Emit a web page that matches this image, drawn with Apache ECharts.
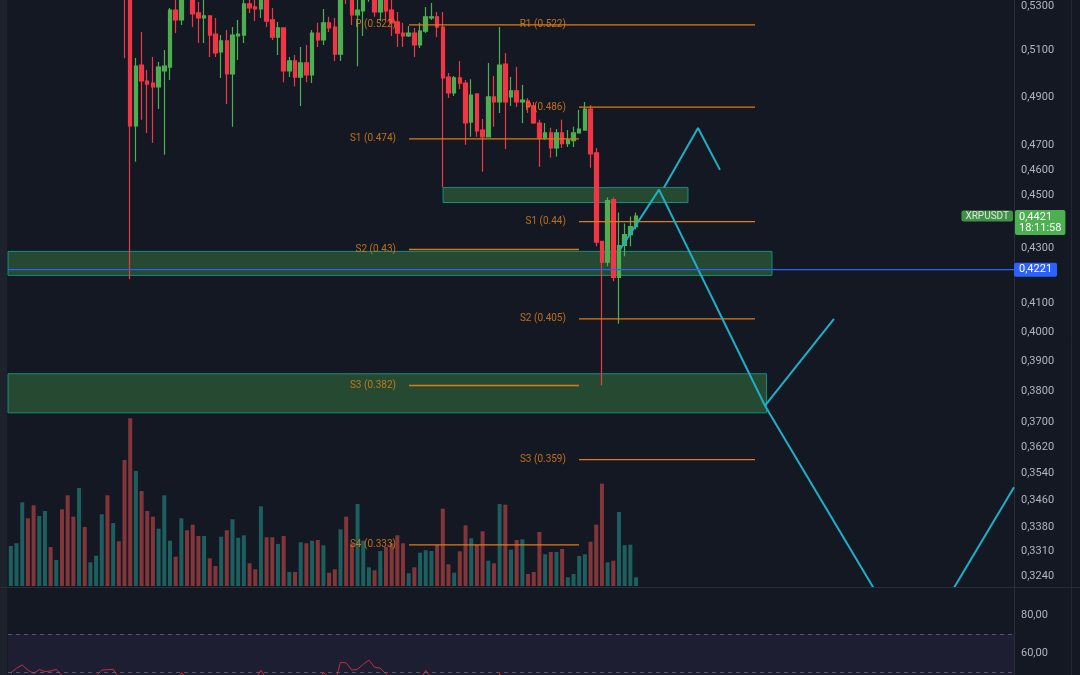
<!DOCTYPE html>
<html><head><meta charset="utf-8">
<script src="https://cdn.jsdelivr.net/npm/echarts@6/dist/echarts.min.js"></script>
<style>html,body{margin:0;padding:0;background:#141823;}#c{width:1080px;height:675px;}</style>
</head><body><div id="c"></div>
<script>
// ---- data ----
const SLOTS = 177; // bar slots incl. right margin
const categories = Array.from({length: SLOTS}, (_, i) => String(i + 1));
const open  = [.575,.582,.588,.596,.590,.583,.589,.594,.590,.593,.585,.576,.570,.578,.572,.575,.579,.584,.574,.578,.568,.555,.4779,.5037,.4968,.4959,.4943,.5011,.5028,.5282,.5237,.5410,.5360,.5269,.5246,.5255,.5173,.5094,.5143,.4998,.5165,.5169,.5310,.5296,.5287,.5350,.5237,.5160,.5201,.5011,.5055,.4985,.5046,.4994,.5178,.5147,.5224,.5205,.5085,.5400,.5360,.5260,.5278,.5360,.5390,.5273,.5360,.5282,.5228,.5178,.5165,.5178,.5125,.5187,.5246,.5251,.5205,.4985,.4917,.4981,.4959,.4795,.4913,.4762,.4734,.4900,.4879,.5041,.4900,.4926,.4879,.4883,.4862,.4791,.4730,.4750,.4689,.4750,.4706,.4718,.4750,.4762,.4849,.4669,.4325,.4248,.4484,.4193,.4310,.4351,.4381];
const close = [.582,.588,.596,.590,.583,.589,.594,.590,.593,.585,.576,.570,.578,.572,.575,.579,.584,.574,.578,.568,.555,.4779,.5032,.4968,.4955,.4943,.5028,.5032,.5282,.5237,.5380,.5370,.5264,.5246,.5255,.5169,.5090,.5143,.4998,.5169,.5173,.5310,.5292,.5287,.5340,.5232,.5160,.5201,.5011,.5055,.4985,.5046,.4994,.5178,.5147,.5224,.5201,.5085,.5360,.5350,.5260,.5282,.5360,.5380,.5273,.5360,.5278,.5224,.5178,.5165,.5178,.5125,.5187,.5251,.5251,.5205,.4981,.4917,.4981,.4959,.4791,.4908,.4758,.4734,.4900,.4879,.5037,.4879,.4926,.4879,.4887,.4858,.4791,.4730,.4750,.4689,.4750,.4706,.4722,.4750,.4766,.4849,.4665,.4322,.4248,.4480,.4193,.4310,.4351,.4381,.4421];
const low   = [.572,.579,.585,.586,.580,.581,.586,.587,.588,.582,.572,.566,.567,.569,.570,.573,.576,.570,.571,.563,.5067,.4186,.4633,.4804,.4750,.4710,.4849,.4661,.4972,.5178,.5214,.5350,.5205,.5134,.5134,.5072,.5072,.4981,.4870,.4775,.5059,.5134,.5269,.5232,.5246,.5205,.5147,.5081,.4963,.4985,.4946,.4862,.4963,.4959,.5116,.5125,.5183,.5055,.5055,.5310,.5214,.5032,.5165,.5320,.5251,.5232,.5237,.5165,.5116,.5116,.5160,.5072,.5112,.5178,.5237,.5160,.4531,.4896,.4904,.4934,.4702,.4734,.4734,.4593,.4734,.4775,.4833,.4685,.4862,.4858,.4791,.4833,.4787,.4613,.4722,.4649,.4653,.4689,.4693,.4693,.4750,.4762,.4609,.4307,.3819,.4233,.4179,.4028,.4270,.4307,.4370];
const high  = [.586,.592,.600,.599,.593,.592,.597,.596,.595,.595,.587,.579,.581,.580,.577,.581,.586,.586,.580,.580,.571,.558,.5068,.5183,.5015,.5072,.5050,.5103,.5291,.5340,.5400,.5450,.5400,.5319,.5328,.5258,.5246,.5169,.5192,.5205,.5237,.5340,.5350,.5328,.5370,.5380,.5291,.5228,.5201,.5072,.5081,.5116,.5125,.5192,.5224,.5287,.5251,.5246,.5400,.5430,.5400,.5340,.5400,.5420,.5420,.5390,.5390,.5350,.5273,.5224,.5210,.5201,.5224,.5296,.5314,.5273,.5273,.5002,.4989,.5055,.4972,.4976,.4913,.4808,.5046,.4989,.5205,.5090,.4985,.5028,.4951,.4896,.4879,.4804,.4791,.4771,.4766,.4804,.4762,.4775,.4845,.4879,.4866,.4689,.4325,.4492,.4492,.4435,.4393,.4419,.4435];
const volume = [40.0,42.7,83.7,67.7,80.7,70.0,75.0,39.0,26.0,76.7,90.7,69.3,98.0,59.0,23.7,30.3,71.7,90.7,63.0,44.7,126.0,167.7,115.0,95.0,75.0,69.3,57.3,90.7,45.3,29.3,67.7,55.7,61.3,50.0,50.0,27.7,20.0,49.3,55.7,66.7,48.3,50.7,22.7,16.7,79.7,48.7,48.7,42.0,50.0,14.0,14.0,43.7,42.7,45.3,46.0,40.7,13.3,16.7,56.7,69.3,42.7,82.0,45.3,18.7,15.7,35.0,39.0,42.7,50.7,42.7,12.7,18.7,33.3,35.7,35.0,41.0,77.3,21.7,13.3,34.7,60.7,47.7,41.0,54.7,25.3,22.7,82.0,81.3,36.3,46.0,46.7,12.0,14.0,54.0,31.7,34.0,34.0,37.0,8.7,12.0,30.0,31.7,44.3,61.3,102.3,23.7,25.3,74.0,40.7,41.3,8.7];
const rsi = [49.5,52,53.7,51,49.2,51.3,50.2,50.5,51.4,48,45,42,45,44,46,48,51,51.2,51.4,47,41,30,38,36,35,34,37,38,44,43,49.6,47,46,44,45,43,41,43,40,44,44,47,46,46,51,46,44,45,41,42,40,42,41,46,45,49.8,47,44,55.1,54.8,51,51.5,54,56.3,52.5,52,49,46,44,43,44,43,46,50.8,47,46,36,35,37,36,32,36,33,33,38,37,49.2,40,41,40,40,39,37,35,36,34,36,35,36,37,38,41,35,25,23,35,30,35,37,38,40];

const priceTicks = [0.53,0.51,0.49,0.47,0.46,0.45,0.43,0.41,0.40,0.39,0.38,0.37,0.362,0.354,0.346,0.338,0.331,0.324];
const priceTickLabels = ['0,5300','0,5100','0,4900','0,4700','0,4600','0,4500','0,4300','0,4100','0,4000','0,3900','0,3800','0,3700','0,3620','0,3540','0,3460','0,3380','0,3310','0,3240'];
const rsiTicks = [80, 60];
const rsiTickLabels = ['80,00', '60,00'];

// pivot sets (levels as drawn on the chart)
const pivotLeftSpan = [70.05, 99.96];
const pivotLeftNames = ['P (0.522)','S1 (0.474)','S2 (0.43)','S3 (0.382)','S4 (0.333)'];
const pivotLeftValues = [0.5215, 0.4726, 0.4295, 0.3819, 0.3328];
const pivotRightSpan = [99.96, 130.93];
const pivotRightNames = ['R1 (0.522)','P (0.486)','S1 (0.44)','S2 (0.405)','S3 (0.359)'];
const pivotRightValues = [0.5215, 0.4857, 0.4400, 0.4045, 0.3582];

// demand zones
const zoneSlots = [[76.04, 119.14], [-0.5, 133.92], [-0.5, 132.95]];
const zonePrices = [[0.4531, 0.4473], [0.4288, 0.4200], [0.3858, 0.3730]];

// projection paths [slot, price]
const pathMain = [[107.18,0.4295],[114.04,0.4523],[132.69,0.3753],[158.85,0.3025],[176.5,0.3498]];
const pathUp   = [[114.92,0.4531],[120.90,0.4770],[124.77,0.4601]];
const pathBounce = [[132.69,0.3753],[144.83,0.4045]];

const hLinePrice = 0.4221;
const lastPrice = 0.4421;
const lastPriceLabel = '0,4421\n18:11:58';
const hLineLabel = '0,4221';
const symbolName = 'XRPUSDT';

// ---- chart ----
const UP = '#4caf50', DOWN = '#f23645';
const ORANGE_LINE = '#e07a12', ORANGE_TEXT = 'rgba(226,130,24,0.82)';
const CLEAR = 'rgba(0,0,0,0)';
const FONT = 'Roboto';
const chart = echarts.init(document.getElementById('c'), null, {renderer: 'canvas'});

const candleData = open.map((o, i) => [o, close[i], low[i], high[i]]);
const volData = volume.map((v, i) => ({value: v, itemStyle: {color: close[i] >= open[i] ? 'rgba(38,166,154,0.5)' : 'rgba(239,83,80,0.5)'}}));

function pivotSeries(span, names, values) {
  return values.map((v, i) => ({
    name: names[i], type: 'line', xAxisIndex: 1, yAxisIndex: 0, z: 4, silent: true,
    symbol: 'circle', symbolSize: 0, showSymbol: true,
    lineStyle: {color: ORANGE_LINE, width: 1.3},
    itemStyle: {color: ORANGE_LINE},
    label: {show: false},
    data: [
      {value: [span[0], v], label: {show: true, position: 'left', distance: 13, formatter: names[i], color: ORANGE_TEXT, fontSize: 10, fontFamily: FONT}},
      {value: [span[1], v]}
    ]
  }));
}

const option = {
  animation: false,
  backgroundColor: '#141823',
  textStyle: {fontFamily: FONT},
  grid: [
    {left: 8, right: 66, top: 0, bottom: 88},
    {left: 8, right: 66, top: 400, bottom: 89},
    {left: 8, right: 66, top: 588, bottom: 0}
  ],
  xAxis: [
    {type: 'category', data: categories, gridIndex: 0, show: false},
    {type: 'value', min: -0.5, max: SLOTS - 0.5, gridIndex: 0, show: false},
    {type: 'category', data: categories, gridIndex: 1, show: false},
    {type: 'category', data: categories, gridIndex: 2, show: false}
  ],
  yAxis: [
    {type: 'log', min: 0.3209, max: 0.5328, gridIndex: 0, show: false, splitLine: {show: false}},
    {type: 'value', min: 0, max: 186, gridIndex: 1, show: false, splitLine: {show: false}},
    {type: 'value', min: 48.42, max: 94.21, gridIndex: 2, show: false, splitLine: {show: false}}
  ],
  graphic: [
    {type: 'rect', shape: {x: 0, y: 0, width: 7, height: 675}, style: {fill: '#1e222d'}, z: 100},
    {type: 'line', shape: {x1: 0, y1: 587.5, x2: 1080, y2: 587.5}, style: {stroke: '#2a2e39', lineWidth: 1}, z: 100},
    {type: 'line', shape: {x1: 1014.5, y1: 0, x2: 1014.5, y2: 675}, style: {stroke: '#2a2e39', lineWidth: 1}, z: 0},
    {type: 'line', shape: {x1: 1071.5, y1: 0, x2: 1071.5, y2: 675}, style: {stroke: '#232733', lineWidth: 1}, z: 0}
  ],
  series: [
    {
      name: 'Volume', type: 'bar', xAxisIndex: 2, yAxisIndex: 1, data: volData,
      barWidth: 4, z: 1
    },
    {
      name: 'Zones', type: 'line', xAxisIndex: 1, yAxisIndex: 0, data: [], z: 2,
      markArea: {
        silent: true,
        itemStyle: {color: 'rgba(76,175,80,0.33)', borderColor: 'rgba(16,160,140,0.85)', borderWidth: 1},
        data: zoneSlots.map((s, i) => [{coord: [s[0], zonePrices[i][0]]}, {coord: [s[1], zonePrices[i][1]]}])
      }
    },
    {
      name: 'XRPUSDT', type: 'candlestick', xAxisIndex: 0, yAxisIndex: 0, data: candleData,
      barWidth: 4, z: 3,
      itemStyle: {color: UP, color0: DOWN, borderColor: UP, borderColor0: DOWN, borderWidth: 1.2}
    },
    ...pivotSeries(pivotLeftSpan, pivotLeftNames, pivotLeftValues),
    ...pivotSeries(pivotRightSpan, pivotRightNames, pivotRightValues),
    {
      name: 'Projection', type: 'line', xAxisIndex: 1, yAxisIndex: 0, data: pathMain, z: 5,
      symbol: 'none', lineStyle: {color: '#1cb0c8', width: 2}
    },
    {
      name: 'Projection2', type: 'line', xAxisIndex: 1, yAxisIndex: 0, data: pathUp, z: 5,
      symbol: 'none', lineStyle: {color: '#1cb0c8', width: 2}
    },
    {
      name: 'Projection3', type: 'line', xAxisIndex: 1, yAxisIndex: 0, data: pathBounce, z: 5,
      symbol: 'none', lineStyle: {color: '#1cb0c8', width: 2}
    },
    {
      name: 'HLine', type: 'line', xAxisIndex: 1, yAxisIndex: 0, clip: false, z: 6,
      data: [[-0.5, hLinePrice], [SLOTS - 0.5, hLinePrice]],
      symbol: 'none', lineStyle: {color: '#2962ff', width: 1.3},
      markLine: {
        silent: true, symbol: ['none', 'none'], precision: 4,
        lineStyle: {color: CLEAR, width: 0},
        label: {position: 'end', distance: 7, color: '#b2b5be', fontSize: 11, fontFamily: FONT},
        data: priceTicks.map((v, i) => ({yAxis: v, label: {formatter: priceTickLabels[i]}})).concat([
          {yAxis: hLinePrice, label: {formatter: hLineLabel, distance: 0, color: '#fff', backgroundColor: '#2962ff', padding: [2, 5, 1, 5], borderRadius: 2}},
          {yAxis: lastPrice, label: {formatter: lastPriceLabel, distance: 1, color: '#fff', backgroundColor: '#4caf50', padding: [1, 4, 1, 4], lineHeight: 11.5, verticalAlign: 'top', offset: [0, -6], borderRadius: 2}}
        ])
      }
    },
    {
      name: 'Symbol', type: 'scatter', xAxisIndex: 1, yAxisIndex: 0, clip: false, z: 7,
      data: [[SLOTS - 0.5, lastPrice]], symbolSize: 0,
      label: {show: true, position: 'left', distance: 1, formatter: symbolName, color: '#fff', fontSize: 10, fontFamily: FONT, backgroundColor: '#4caf50', padding: [1, 4, 0, 4], borderRadius: 2}
    },
    {
      name: 'RSI', type: 'line', xAxisIndex: 3, yAxisIndex: 2, data: rsi, clip: false, z: 3,
      symbol: 'none', lineStyle: {color: '#c22f3c', width: 1},
      markArea: {
        silent: true, itemStyle: {color: 'rgba(126,87,194,0.1)'},
        data: [[{yAxis: 70}, {yAxis: 30}]]
      },
      markLine: {
        silent: true, symbol: ['none', 'none'], precision: 2,
        label: {position: 'end', distance: 7, color: '#b2b5be', fontSize: 11, fontFamily: FONT},
        data: [
          {yAxis: 70, lineStyle: {color: 'rgba(120,123,134,0.6)', type: [4, 4], width: 1}, label: {show: false}},
          {yAxis: 50, lineStyle: {color: 'rgba(120,123,134,0.6)', type: [4, 4], width: 1}, label: {show: false}}
        ].concat(rsiTicks.map((v, i) => ({yAxis: v, lineStyle: {color: CLEAR, width: 0}, label: {formatter: rsiTickLabels[i]}})))
      }
    }
  ]
};
chart.setOption(option);
</script>
</body></html>
